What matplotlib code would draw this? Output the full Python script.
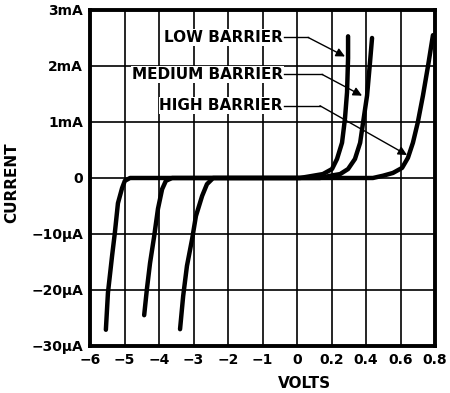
import matplotlib
matplotlib.use('Agg')
import matplotlib.pyplot as plt
import numpy as np

plt.rcParams['font.family'] = ['DejaVu Sans']
plt.rcParams['font.weight'] = 'bold'

# ---------------------------------------------------------------------------- #
# Data. Reverse branch in volts / microamps,
# forward branch in volts / milliamps.

rev_v_1 = [-5.54, -5.48, -5.36, -5.28, -5.19, -5.07, -4.99, -4.84]
rev_i_1 = [-27.1, -20.5, -13.9, -9.8, -4.5, -1.8, -0.5, 0.0]
rev_v_2 = [-4.43, -4.35, -4.26, -4.14, -4.03, -3.91, -3.80, -3.62]
rev_i_2 = [-24.5, -19.8, -15.2, -10.4, -5.5, -2.0, -0.5, 0.0]
rev_v_3 = [-3.39, -3.30, -3.19, -3.04, -2.93, -2.75, -2.61, -2.43]
rev_i_3 = [-27.0, -21.1, -15.7, -10.9, -6.8, -3.2, -1.1, 0.0]

fwd_v_low = [0.017, 0.093, 0.150, 0.203, 0.232, 0.261, 0.278, 0.290, 0.296, 0.296]
fwd_i_low = [0.0, 0.04, 0.07, 0.16, 0.34, 0.63, 1.06, 1.53, 2.14, 2.53]
fwd_v_med = [0.133, 0.193, 0.250, 0.296, 0.336, 0.366, 0.383, 0.406, 0.423, 0.435]
fwd_i_med = [0.0, 0.04, 0.07, 0.16, 0.34, 0.63, 0.99, 1.47, 2.06, 2.50]
fwd_v_high = [0.44, 0.498, 0.556, 0.609, 0.643, 0.672, 0.700, 0.730, 0.760, 0.788]
fwd_i_high = [0.0, 0.04, 0.09, 0.18, 0.36, 0.63, 0.99, 1.47, 2.01, 2.55]

labels = ['LOW BARRIER', 'MEDIUM BARRIER', 'HIGH BARRIER']
label_i = [2.51, 1.85, 1.29]           # mA, height of each label
elbow_v = [0.064, 0.145, 0.133]        # end of the horizontal leader
tip_v = [0.278, 0.377, 0.638]          # arrow tips
tip_i = [2.17, 1.47, 0.41]

xticks = [-6, -5, -4, -3, -2, -1, 0, 0.2, 0.4, 0.6, 0.8]
xticklabels = ['\u22126', '\u22125', '\u22124', '\u22123', '\u22122', '\u22121',
               '0', '0.2', '0.4', '0.6', '0.8']
yticks = [3, 2, 1, 0, -0.01, -0.02, -0.03]
yticklabels = ['3mA', '2mA', '1mA', '0', '\u221210\u00b5A', '\u221220\u00b5A',
               '\u221230\u00b5A']

# ---------------------------------------------------------------------------- #
# Piecewise axes: 1 V per division below zero, 0.2 V above;
# 10 uA per division below zero, 1 mA above.

def fx(v):
    v = np.asarray(v, dtype=float)
    return np.where(v <= 0, v + 6, 6 + v / 0.2)

def fx_inv(p):
    p = np.asarray(p, dtype=float)
    return np.where(p <= 6, p - 6, (p - 6) * 0.2)

def fy(i):
    i = np.asarray(i, dtype=float)
    return np.where(i >= 0, i, i * 100)

def fy_inv(p):
    p = np.asarray(p, dtype=float)
    return np.where(p >= 0, p, p / 100)

fig = plt.figure(figsize=(4.5, 3.93), dpi=100)
ax = fig.add_axes([0.2, 0.1196, 0.7667, 0.855])
ax.set_xscale('function', functions=(fx, fx_inv))
ax.set_yscale('function', functions=(fy, fy_inv))
ax.set_xlim(-6, 0.8)
ax.set_ylim(-0.03, 3)

ax.set_xticks(xticks)
ax.set_xticklabels(xticklabels)
ax.set_yticks(yticks)
ax.set_yticklabels(yticklabels)
ax.minorticks_off()
ax.tick_params(length=0, labelsize=10, pad=5)
ax.grid(True, color='black', lw=1.2)
ax.set_axisbelow(True)
for s in ax.spines.values():
    s.set_linewidth(2.8)

revs = [(rev_v_1, rev_i_1), (rev_v_2, rev_i_2), (rev_v_3, rev_i_3)]
fwds = [(fwd_v_high, fwd_i_high), (fwd_v_med, fwd_i_med), (fwd_v_low, fwd_i_low)]
for (rv, ri), (fv, fi) in zip(revs, fwds):
    v = np.concatenate([rv, fv])
    i = np.concatenate([np.array(ri) / 1000.0, fi])
    ax.plot(v, i, color='black', lw=3.2, solid_capstyle='round',
            solid_joinstyle='round', zorder=3)

for k in range(3):
    ax.text(-0.41, label_i[k], labels[k], ha='right', va='center', fontsize=11,
            bbox=dict(fc='white', ec='none', pad=0.5), zorder=4)
    ax.plot([-0.38, elbow_v[k]], [label_i[k], label_i[k]], color='black',
            lw=1.0, zorder=4)
    ax.annotate('', xy=(tip_v[k], tip_i[k]), xytext=(elbow_v[k], label_i[k]),
                arrowprops=dict(arrowstyle='-|>', color='black', lw=1.0,
                                mutation_scale=13, shrinkA=0, shrinkB=0),
                zorder=4)

fig.text(0.676, 0.023, 'VOLTS', ha='center', va='center', fontsize=11)
fig.text(0.027, 0.535, 'CURRENT', ha='center', va='center', rotation=90,
         fontsize=11)

plt.savefig('out.png', dpi=100)
